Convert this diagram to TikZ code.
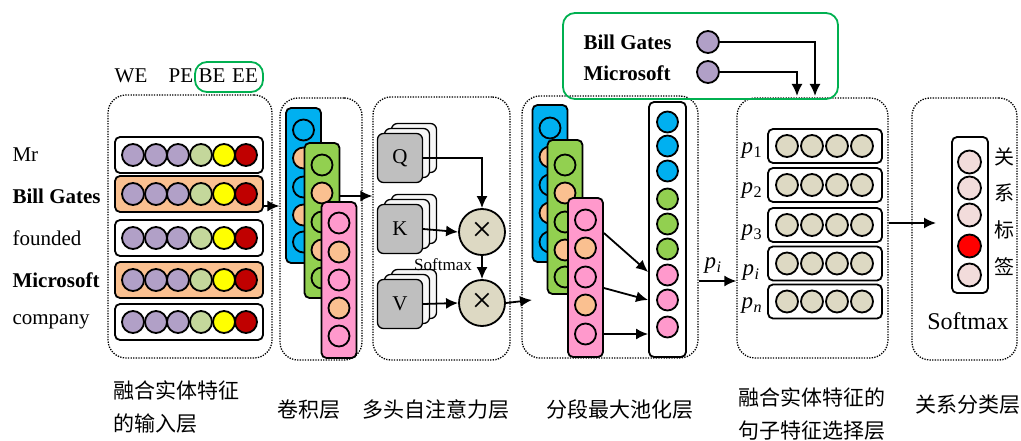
\documentclass[tikz,border=0pt]{standalone}
\usepackage{fontspec}
\setmainfont{Liberation Serif}
\newfontfamily\cjk{Noto Sans CJK SC}
\usepackage{tikz}
\usetikzlibrary{arrows.meta}

\definecolor{wePurple}{HTML}{B1A0C7}
\definecolor{peGreen}{HTML}{C4D79B}
\definecolor{beYellow}{HTML}{FFFF00}
\definecolor{eeRed}{HTML}{C00000}
\definecolor{peach}{HTML}{FAC090}
\definecolor{convBlue}{HTML}{00B0F0}
\definecolor{convGreen}{HTML}{92D050}
\definecolor{convPink}{HTML}{FF99CC}
\definecolor{mulTan}{HTML}{DDD9C3}
\definecolor{outPink}{HTML}{F2DCDB}
\definecolor{entGreen}{HTML}{00B050}
\definecolor{qkvGray}{HTML}{BFBFBF}

\newcommand{\psub}[1]{\textit{p}\kern0.5pt\textsubscript{#1}}

\begin{document}
\begin{tikzpicture}[x=1pt, y=-1pt, font=\fontsize{21}{25}\selectfont,
        dot/.style={circle, draw, line width=1.8pt, minimum size=22pt, inner sep=0pt},
        rowbox/.style={draw, line width=1.8pt, rounded corners=5pt, minimum width=148pt, minimum height=36pt},
        selbox/.style={draw, line width=1.8pt, rounded corners=5pt, minimum width=114pt, minimum height=34pt},
        colbox/.style={draw, line width=1.8pt, rounded corners=5pt, minimum width=35pt},
        layerbox/.style={draw, line width=1.3pt, dash pattern=on 1.3pt off 1.3pt, rounded corners=18pt},
        qkvbox/.style={draw, line width=1.3pt, rounded corners=6pt, minimum width=45pt, minimum height=49pt, fill=gray!6},
        mulnode/.style={circle, draw, line width=1.8pt, fill=mulTan, minimum size=46pt, inner sep=0pt, font=\fontsize{36}{36}\selectfont},
        greenbox/.style={draw=entGreen, line width=1.8pt, rounded corners=12pt},
        arr/.style={line width=1.8pt, -{Latex[length=12pt,width=11pt]}},
        plabel/.style={font=\fontsize{23}{25}\selectfont},
        cjkfont/.style={font=\cjk\fontsize{21}{33}\selectfont}]
    \useasboundingbox (0,0) rectangle (1021,441);

    \node[layerbox, minimum width=164pt, minimum height=263pt] (inlayer) at (190,226.5) {};
    \node[layerbox, minimum width=82pt, minimum height=262pt] (convlayer) at (321,229) {};
    \node[layerbox, minimum width=137pt, minimum height=263pt] (attlayer) at (441.5,228.5) {};
    \node[layerbox, minimum width=176pt, minimum height=262pt] (poollayer) at (610,227) {};
    \node[layerbox, minimum width=151pt, minimum height=260pt] (sellayer) at (812.5,228) {};
    \node[layerbox, minimum width=105pt, minimum height=262pt] (clslayer) at (964.5,229) {};

    \node (we) at (131,76) {WE};
    \node (pe) at (181,76) {PE};
    \node (be) at (212,76) {BE};
    \node (ee) at (245,76) {EE};
    \node[greenbox, minimum width=68pt, minimum height=30pt] (beee) at (229,77) {};

    \node[anchor=west] (w1) at (9,155) {Mr};
    \node[anchor=west] (w2) at (9,196) {\textbf{Bill Gates}};
    \node[anchor=west] (w3) at (9,238) {founded};
    \node[anchor=west] (w4) at (9,280) {\textbf{Microsoft}};
    \node[anchor=west] (w5) at (9,322) {company};

    \foreach \r/\y/\f in {1/155/white, 2/194/peach, 3/238/white, 4/280/peach, 5/322/white} {
        \node[rowbox, fill=\f] (row\r) at (189,\y) {};
        \foreach \c/\x [count=\i] in {wePurple/133, wePurple/156, wePurple/178, peGreen/201, beYellow/224, eeRed/246}
            \node[dot, fill=\c] (r\r c\i) at (\x,\y) {};
    }

    \node[colbox, fill=convBlue, minimum height=155pt] (cvb) at (303.5,185.5) {};
    \foreach \y/\f [count=\i] in {130/convBlue, 158/peach, 187/convBlue, 215/peach, 242/convBlue}
        \node[dot, fill=\f, minimum size=21pt] (cvb\i) at (303.5,\y) {};
    \node[colbox, fill=convGreen, minimum height=155pt] (cvg) at (322,220.5) {};
    \foreach \y/\f [count=\i] in {165/convGreen, 193/peach, 222/convGreen, 250/peach, 278/convGreen}
        \node[dot, fill=\f, minimum size=21pt] (cvg\i) at (322,\y) {};
    \node[colbox, fill=convPink, minimum height=156pt] (cvp) at (339,280) {};
    \foreach \y/\f [count=\i] in {223/convPink, 252/peach, 280/convPink, 308/peach, 336/convPink}
        \node[dot, fill=\f, minimum size=21pt] (cvp\i) at (339,\y) {};

    \foreach \n/\t/\y in {q/Q/158, k/K/229, v/V/304} {
        \node[qkvbox] (\n3) at (414,\y-10) {};
        \node[qkvbox] (\n2) at (407,\y-5) {};
        \node[qkvbox, fill=qkvGray] (\n) at (400,\y) {\t};
    }
    \node[mulnode] (mul1) at (482,232) {×};
    \node[mulnode] (mul2) at (482,303) {×};
    \node[font=\fontsize{17}{20}\selectfont] (smx) at (443,265) {Softmax};

    \node[colbox, fill=convBlue, minimum height=157pt] (pb) at (550,183.5) {};
    \foreach \y/\f [count=\i] in {128/convBlue, 157/peach, 185/convBlue, 213/peach, 242/convBlue}
        \node[dot, fill=\f, minimum size=21pt] (pb\i) at (550,\y) {};
    \node[colbox, fill=convGreen, minimum height=154pt] (pg) at (565,217) {};
    \foreach \y/\f [count=\i] in {165/convGreen, 193/peach, 222/convGreen, 250/peach, 277/convGreen}
        \node[dot, fill=\f, minimum size=21pt] (pg\i) at (565,\y) {};
    \node[colbox, fill=convPink, minimum height=159pt] (pp) at (585.5,277.5) {};
    \foreach \y/\f [count=\i] in {220/convPink, 248/peach, 277/convPink, 305/peach, 334/convPink}
        \node[dot, fill=\f, minimum size=21pt] (pp\i) at (585.5,\y) {};
    \node[colbox, fill=white, minimum width=37pt, minimum height=255pt] (pmax) at (667.5,229.5) {};
    \foreach \y/\f [count=\i] in {122/convBlue, 146/convBlue, 171/convBlue, 199/convGreen, 224/convGreen, 249/convGreen, 275/convPink, 300/convPink, 327/convPink}
        \node[dot, fill=\f, minimum size=21pt] (pm\i) at (667.5,\y) {};

    \foreach \r/\y in {1/146, 2/185, 3/225, 4/263.5, 5/301.5} {
        \node[selbox] (sel\r) at (825,\y) {};
        \foreach \x [count=\i] in {787, 812, 837, 862}
            \node[dot, fill=mulTan] (s\r c\i) at (\x,\y) {};
    }
    \node[plabel] (p1) at (752,151) {\psub{1}};
    \node[plabel] (p2) at (752,191) {\psub{2}};
    \node[plabel] (p3) at (752,233) {\psub{3}};
    \node[plabel] (pi2) at (751,273) {\psub{\textit{i}}};
    \node[plabel] (pn) at (752,306) {\psub{\textit{n}}};

    \node[colbox, fill=white, minimum width=36pt, minimum height=156pt] (out) at (970,215) {};
    \foreach \y/\f [count=\i] in {162/outPink, 188/outPink, 215/outPink, 246/red, 275/outPink}
        \node[dot, fill=\f, minimum size=23pt] (o\i) at (969.5,\y) {};
    \node[cjkfont, font=\cjk\fontsize{20}{20}\selectfont] (rl1) at (1004,157) {关};
    \node[cjkfont, font=\cjk\fontsize{20}{20}\selectfont] (rl2) at (1004,193) {系};
    \node[cjkfont, font=\cjk\fontsize{20}{20}\selectfont] (rl3) at (1004,230) {标};
    \node[cjkfont, font=\cjk\fontsize{20}{20}\selectfont] (rl4) at (1004,267) {签};
    \node[font=\fontsize{24}{28}\selectfont] (osmx) at (968,321) {Softmax};

    \node[greenbox, minimum width=275pt, minimum height=86pt] (ent) at (700.5,56) {};
    \node[anchor=west] (eg) at (580,42) {\textbf{Bill Gates}};
    \node[anchor=west] (em) at (580,73) {\textbf{Microsoft}};
    \node[dot, fill=wePurple] (egd) at (708,42) {};
    \node[dot, fill=wePurple] (emd) at (708,72) {};
    \coordinate (gin) at (815,96);
    \coordinate (min) at (797,96);
    \draw[arr] (egd.east) -| (gin);
    \draw[arr] (emd.east) -| (min);

    \draw[arr] ([yshift=-12pt]row2.east) -- (convlayer.west |- 0,206);
    \draw[arr] (cvg.east |- 0,196) -- (attlayer.west |- 0,196);
    \draw[arr] (q.east) -| (mul1.north);
    \draw[arr] (k.east) -- (mul1.west);
    \draw[arr] (v.east) -- (mul2.west);
    \draw[arr] (mul1.south) -- (mul2.north);
    \coordinate (poolin) at (532,300);
    \draw[arr] (mul2.east) -- (poolin);
    \draw[arr] (pp.east |- 0,233) -- (pmax.west |- 0,272);
    \draw[arr] (pp.east |- 0,288) -- (pmax.west |- 0,300);
    \draw[arr] (pp.east |- pp5) -- (pmax.west |- pp5);
    \draw[arr] (poollayer.east |- 0,281) -- (sellayer.west |- 0,281);
    \node[plabel] (pi) at (713,266) {\psub{\textit{i}}};
    \coordinate (clsin) at (936,223);
    \draw[arr] (sellayer.east |- clsin) -- (clsin);

    \node[cjkfont, anchor=north west, align=left] (inname) at (110,377) {融合实体特征\\的输入层};
    \node[cjkfont] (convname) at (309,410) {卷积层};
    \node[cjkfont] (attname) at (436,410) {多头自注意力层};
    \node[cjkfont] (poolname) at (620,410) {分段最大池化层};
    \node[cjkfont, anchor=north west, align=left] (selname) at (735,384) {融合实体特征的\\句子特征选择层};
    \node[cjkfont] (clsname) at (968,405) {关系分类层};
\end{tikzpicture}
\end{document}
